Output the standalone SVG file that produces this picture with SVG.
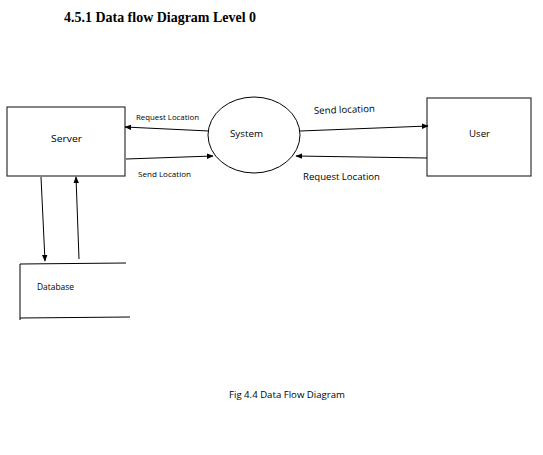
<svg xmlns="http://www.w3.org/2000/svg" width="543" height="455" viewBox="0 0 543 455">
<style>
.box{fill:#fff;stroke:#333;stroke-width:1.2}
.ln{stroke:#000;stroke-width:1;fill:none}
.t{font-family:"Open Sans","Liberation Sans",Arial,sans-serif;fill:#000}
</style>
<defs>
<marker id="ah" viewBox="0 0 10 10" refX="9" refY="5" markerWidth="7" markerHeight="7" orient="auto" markerUnits="userSpaceOnUse">
<path d="M0,1 L10,5 L0,9 z" fill="#000"/>
</marker>
</defs>
<rect width="543" height="455" fill="#fff"/>
<text x="64" y="22" font-family="Liberation Serif,Times New Roman,serif" font-weight="bold" font-size="14.5" textLength="192" lengthAdjust="spacingAndGlyphs">4.5.1 Data flow Diagram Level 0</text>
<g id="server">
<rect class="box" x="7" y="107" width="118" height="69"/>
<text class="t" x="51" y="142" font-size="9.5" textLength="31" lengthAdjust="spacingAndGlyphs">Server</text>
</g>
<g id="system">
<ellipse cx="254" cy="135" rx="46" ry="38" fill="#fff" stroke="#000" stroke-width="1"/>
<text class="t" x="230" y="137" font-size="9.5" textLength="33" lengthAdjust="spacingAndGlyphs">System</text>
</g>
<g id="user">
<rect class="box" x="427" y="98" width="104" height="78"/>
<text class="t" x="469" y="137" font-size="9.5" textLength="21" lengthAdjust="spacingAndGlyphs">User</text>
</g>
<g id="database">
<line class="ln" x1="20" y1="264" x2="126" y2="263"/>
<line class="ln" x1="20" y1="318" x2="130" y2="317"/>
<line class="ln" x1="20" y1="264" x2="20" y2="320"/>
<text class="t" x="37" y="290" font-size="8.5" textLength="37" lengthAdjust="spacingAndGlyphs">Database</text>
</g>
<g id="connectors">
<line class="ln" x1="209" y1="131" x2="125" y2="127" marker-end="url(#ah)"/>
<line class="ln" x1="126" y1="159" x2="213" y2="156" marker-end="url(#ah)"/>
<line class="ln" x1="300" y1="131" x2="428" y2="126" marker-end="url(#ah)"/>
<line class="ln" x1="427" y1="158" x2="296" y2="156" marker-end="url(#ah)"/>
<line class="ln" x1="41" y1="177" x2="45" y2="261" marker-end="url(#ah)"/>
<line class="ln" x1="79" y1="259" x2="76" y2="177" marker-end="url(#ah)"/>
<text class="t" x="136" y="120" font-size="7" textLength="63" lengthAdjust="spacingAndGlyphs">Request Location</text>
<text class="t" x="138" y="177" font-size="7" textLength="53" lengthAdjust="spacingAndGlyphs">Send Location</text>
<text class="t" x="314" y="114" font-size="9.5" textLength="61" lengthAdjust="spacingAndGlyphs" transform="rotate(-2 314 114)">Send location</text>
<text class="t" x="303" y="180" font-size="9.5" textLength="77" lengthAdjust="spacingAndGlyphs">Request Location</text>
</g>
<text class="t" x="229" y="398" font-size="9" textLength="116" lengthAdjust="spacingAndGlyphs">Fig 4.4 Data Flow Diagram</text>
</svg>
